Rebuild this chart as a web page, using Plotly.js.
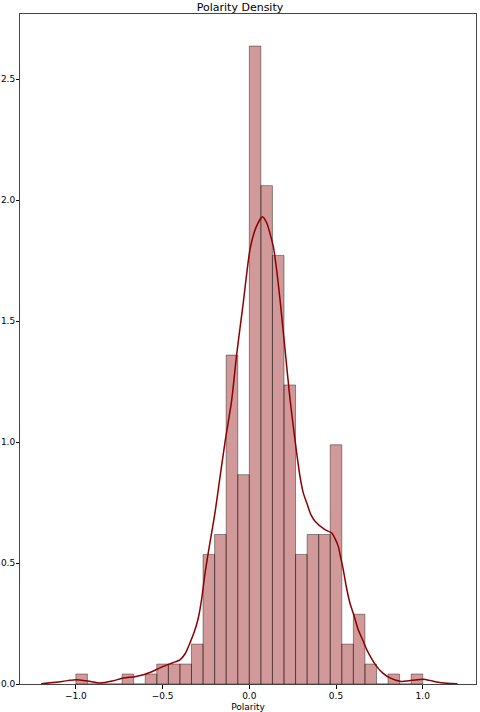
<!DOCTYPE html>
<html>
<head>
<meta charset="utf-8">
<script src="https://cdn.plot.ly/plotly-3.0.1.min.js"></script>
<style>
  html, body { margin: 0; padding: 0; background: #fff; }
  #chart { width: 480px; height: 712px; }
</style>
</head>
<body>
<div id="chart"></div>
<script>
// histogram: 30 bins between -1 and 1, counts
var binLow = -1;
var binHigh = 1;
var binCounts = [1, 0, 0, 0, 1, 0, 1, 2, 2, 2,
                 4, 13, 15, 33, 21, 64, 50, 43, 30, 13,
                 15, 15, 24, 4, 7, 2, 0, 1, 0, 1];

// kde curve, points
var kdeX = [-1.2, -1.1, -1.04, -1.0, -0.93, -0.86, -0.79, -0.726, -0.66, -0.611,
            -0.55, -0.496, -0.44, -0.40, -0.37, -0.342, -0.315, -0.294, -0.275, -0.255,
            -0.228, -0.198, -0.17, -0.14, -0.101, -0.073, -0.035, 0.004, 0.04, 0.075,
            0.1, 0.138, 0.158, 0.177, 0.206, 0.235, 0.263, 0.292, 0.311, 0.331,
            0.355, 0.379, 0.436, 0.475, 0.495, 0.513, 0.528, 0.542, 0.56, 0.58,
            0.605, 0.628, 0.655, 0.677, 0.705, 0.734, 0.77, 0.811, 0.869, 0.936,
            1.003, 1.04, 1.08, 1.14, 1.2];
var kdeY = [0.001, 0.008, 0.015, 0.018, 0.012, 0.004, 0.012, 0.025, 0.03, 0.038,
            0.055, 0.073, 0.088, 0.10, 0.125, 0.17, 0.22, 0.273, 0.35, 0.459,
            0.58, 0.707, 0.85, 1.0, 1.176, 1.362, 1.575, 1.797, 1.89, 1.932,
            1.907, 1.81, 1.71, 1.59, 1.383, 1.176, 1.011, 0.859, 0.79, 0.749,
            0.70, 0.673, 0.638, 0.624, 0.60, 0.569, 0.52, 0.472, 0.40, 0.335,
            0.28, 0.224, 0.18, 0.142, 0.105, 0.073, 0.045, 0.025, 0.011, 0.015,
            0.02, 0.015, 0.008, 0.003, 0.001];

var xTicks = [-1.0, -0.5, 0.0, 0.5, 1.0];
var yTicks = [0.0, 0.5, 1.0, 1.5, 2.0, 2.5];

var binW = (binHigh - binLow) / binCounts.length;
var total = binCounts.reduce(function (a, b) { return a + b; }, 0);
var centers = binCounts.map(function (c, i) { return binLow + (i + 0.5) * binW; });
var density = binCounts.map(function (c) { return c / (total * binW); });

var bars = {
  type: 'bar',
  x: centers,
  y: density,
  width: binW,
  marker: {
    color: 'rgba(139,0,0,0.4)',
    line: { color: 'rgba(0,0,0,0.4)', width: 1 }
  },
  hoverinfo: 'x+y'
};

var kde = {
  type: 'scatter',
  mode: 'lines',
  x: kdeX,
  y: kdeY,
  line: { color: '#8b0000', width: 1.5, shape: 'spline', smoothing: 0.6 }
};

var font = { family: 'DejaVu Sans, sans-serif', size: 9, color: '#000' };

var layout = {
  width: 480,
  height: 712,
  margin: { t: 14, b: 28, l: 20, r: 4 },
  paper_bgcolor: '#fff',
  plot_bgcolor: '#fff',
  showlegend: false,
  bargap: 0,
  font: font,
  title: {
    text: 'Polarity Density',
    font: { family: 'DejaVu Sans, sans-serif', size: 11, color: '#000' },
    x: 0.5, xanchor: 'center',
    y: 0.99, yanchor: 'middle', yref: 'container'
  },
  xaxis: {
    range: [-1.322, 1.307],
    tickvals: xTicks,
    tickformat: '.1f',
    ticks: 'outside', ticklen: 3.5, tickcolor: '#000',
    showgrid: false, zeroline: false,
    showline: true, mirror: true, linecolor: '#444', linewidth: 1,
    tickfont: font,
    title: { text: 'Polarity', font: font, standoff: 3 }
  },
  yaxis: {
    range: [0, 2.77],
    tickvals: yTicks,
    tickformat: '.1f',
    ticks: 'outside', ticklen: 3, tickcolor: '#000',
    ticklabelstandoff: -1,
    showgrid: false, zeroline: false,
    showline: true, mirror: true, linecolor: '#444', linewidth: 1,
    tickfont: font
  }
};

Plotly.newPlot('chart', [bars, kde], layout, { displayModeBar: false, staticPlot: true });
</script>
</body>
</html>
